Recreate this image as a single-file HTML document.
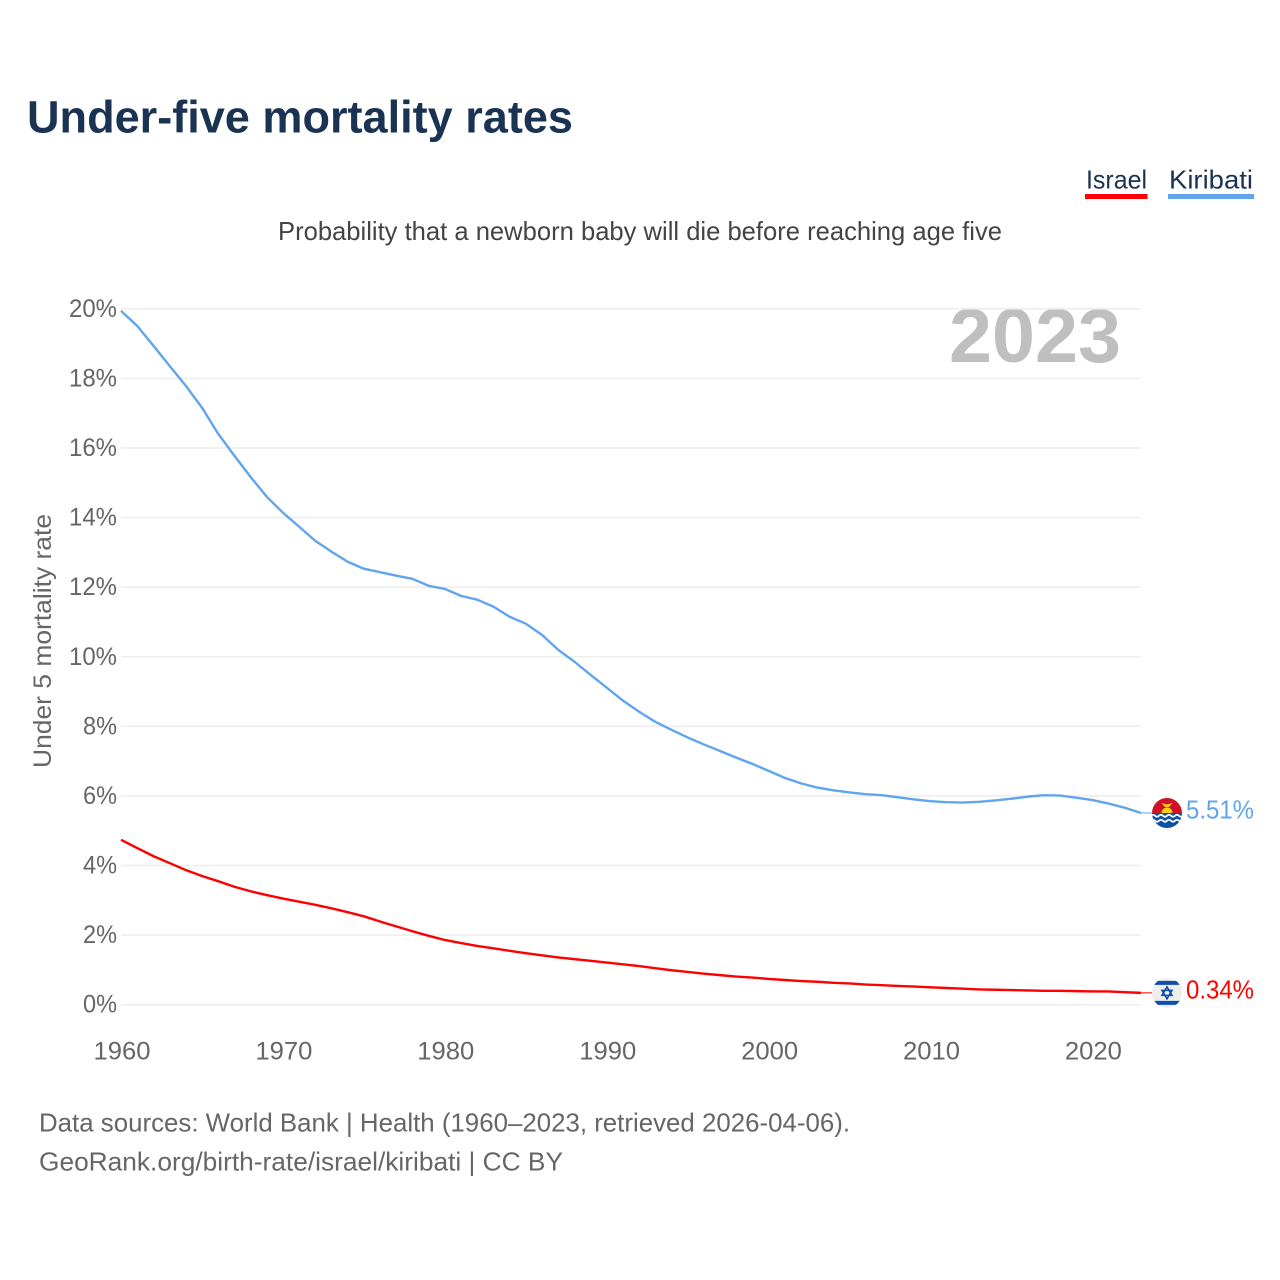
<!DOCTYPE html>
<html lang="en">
<head>
<meta charset="utf-8">
<title>Under-five mortality rates</title>
<style>
html,body{margin:0;padding:0;background:#fff;width:1280px;height:1280px;overflow:hidden}
svg{display:block;font-family:"Liberation Sans",sans-serif}
</style>
</head>
<body>
<svg id="chart" xmlns="http://www.w3.org/2000/svg" width="1280" height="1280" viewBox="0 0 1280 1280">
  <rect width="1280" height="1280" fill="#fff"/>
  <text x="27" y="132.500" font-size="45" font-weight="700" fill="#1a3353" textLength="546" lengthAdjust="spacingAndGlyphs">Under-five mortality rates</text>
  <g>
    <text x="1086" y="188.500" font-size="26" fill="#1a3353" textLength="61" lengthAdjust="spacingAndGlyphs">Israel</text>
    <rect x="1085" y="194" width="62.500" height="5" fill="#ff0000"/>
  </g>
  <g>
    <text x="1169" y="188.500" font-size="26" fill="#1a3353" textLength="84" lengthAdjust="spacingAndGlyphs">Kiribati</text>
    <rect x="1168" y="194" width="86" height="5" fill="#60a5ee"/>
  </g>
  <text x="278" y="240" font-size="26" fill="#444" textLength="724" lengthAdjust="spacingAndGlyphs">Probability that a newborn baby will die before reaching age five</text>
  <text x="949" y="362" font-size="76" font-weight="700" fill="#bfbfbf" textLength="172" lengthAdjust="spacingAndGlyphs">2023</text>
  <g id="grid"></g>
  <g id="yticks"></g>
  <g id="xticks"></g>
  <text transform="translate(51,641) rotate(-90)" text-anchor="middle" font-size="25" fill="#666" textLength="254" lengthAdjust="spacingAndGlyphs">Under 5 mortality rate</text>
  <g id="series"></g>
  <defs>
    <clipPath id="flag-clip"><circle cx="0" cy="0" r="15"/></clipPath>
  </defs>
  <g id="flag-kiribati">
    <g clip-path="url(#flag-clip)">
      <rect x="-15" y="-15" width="30" height="15" fill="#ce1126"/>
      <rect x="-15" y="0" width="30" height="15" fill="#0f4fa8"/>
      <path d="M-5.500 0a5.500 5.500 0 0 1 11 0z" fill="#fcd116"/>
      <path d="M-5.500 -10l5.500 1.500l5.500 -1.500l-3.500 4h-4z" fill="#fcd116"/>
      <path d="M-16 2.800q2 -2 4 0t4 0t4 0t4 0t4 0t4 0t4 0t4 0" fill="none" stroke="#fff" stroke-width="1.800"/>
      <path d="M-16 7.800q2 -2 4 0t4 0t4 0t4 0t4 0t4 0t4 0t4 0" fill="none" stroke="#fff" stroke-width="1.800"/>
    </g>
  </g>
  <g id="flag-israel">
    <g clip-path="url(#flag-clip)">
      <rect x="-15" y="-15" width="30" height="30" fill="#eeeeee"/>
      <rect x="-12.500" y="-12" width="25" height="4" fill="#0f4fa8"/>
      <rect x="-12.500" y="8" width="25" height="4" fill="#0f4fa8"/>
      <path d="M0 -6l5 8.500h-10zM0 6l5 -8.500h-10z" fill="none" stroke="#0f4fa8" stroke-width="1.600"/>
    </g>
  </g>
  <text x="39" y="1131.500" font-size="26" fill="#666" textLength="811" lengthAdjust="spacingAndGlyphs">Data sources: World Bank | Health (1960–2023, retrieved 2026-04-06).</text>
  <text x="39" y="1170.500" font-size="26" fill="#666" textLength="524" lengthAdjust="spacingAndGlyphs">GeoRank.org/birth-rate/israel/kiribati | CC BY</text>
</svg>
<script>
const years = [1960,1961,1962,1963,1964,1965,1966,1967,1968,1969,1970,1971,1972,1973,1974,1975,1976,1977,1978,1979,1980,1981,1982,1983,1984,1985,1986,1987,1988,1989,1990,1991,1992,1993,1994,1995,1996,1997,1998,1999,2000,2001,2002,2003,2004,2005,2006,2007,2008,2009,2010,2011,2012,2013,2014,2015,2016,2017,2018,2019,2020,2021,2022,2023];
const kiribatiValues = [19.94,19.51,18.94,18.36,17.79,17.16,16.41,15.78,15.17,14.6,14.14,13.74,13.33,13.02,12.73,12.53,12.43,12.33,12.24,12.04,11.95,11.75,11.64,11.44,11.15,10.95,10.63,10.2,9.86,9.48,9.11,8.74,8.42,8.13,7.9,7.68,7.48,7.29,7.1,6.92,6.72,6.52,6.36,6.24,6.16,6.1,6.05,6.02,5.96,5.9,5.85,5.82,5.81,5.83,5.87,5.92,5.98,6.02,6.01,5.95,5.88,5.78,5.66,5.51];
const israelValues = [4.74,4.5,4.27,4.07,3.87,3.7,3.55,3.39,3.26,3.15,3.05,2.96,2.87,2.77,2.66,2.54,2.39,2.25,2.11,1.98,1.86,1.77,1.69,1.62,1.55,1.48,1.42,1.36,1.31,1.26,1.21,1.16,1.11,1.05,0.99,0.94,0.89,0.85,0.81,0.78,0.74,0.71,0.68,0.66,0.63,0.61,0.58,0.56,0.54,0.52,0.5,0.48,0.46,0.44,0.43,0.42,0.41,0.4,0.4,0.39,0.38,0.38,0.36,0.34];
const yTickValues = [0,2,4,6,8,10,12,14,16,18,20];
const xTickValues = [1960,1970,1980,1990,2000,2010,2020];

const NS = 'http://www.w3.org/2000/svg';
const plotLeft = 121, plotRight = 1141, plotBottom = 1004.7, plotTop = 308.8;
const xMin = 1960, xMax = 2023, yMax = 20;
function xScale(v){ return plotLeft + (v - xMin) / (xMax - xMin) * (plotRight - plotLeft); }
function yScale(v){ return plotBottom - v / yMax * (plotBottom - plotTop); }
function make(tag, attrs){
  const e = document.createElementNS(NS, tag);
  for (const k in attrs) e.setAttribute(k, attrs[k]);
  return e;
}
const grid = document.getElementById('grid');
const yticks = document.getElementById('yticks');
const xticks = document.getElementById('xticks');
const series = document.getElementById('series');
const root = document.getElementById('chart');

yTickValues.forEach(function(v){
  const line = make('line', {x1: plotLeft, x2: plotRight, y1: yScale(v), y2: yScale(v), stroke: '#eeeeee', 'stroke-width': 1.6});
  
  
  grid.appendChild(line);
  const label = v + '%';
  const t = make('text', {x: 117, y: yScale(v) + 8, 'text-anchor': 'end', 'font-size': 25, fill: '#666', textLength: (label.length - 1) * 14 + 20, lengthAdjust: 'spacingAndGlyphs'});
  t.textContent = label;
  
  
  yticks.appendChild(t);
});
xTickValues.forEach(function(v){
  const t = make('text', {x: xScale(v) + 1, y: 1059.500, 'text-anchor': 'middle', 'font-size': 25, fill: '#666', textLength: 57, lengthAdjust: 'spacingAndGlyphs'});
  t.textContent = v;
  
  
  xticks.appendChild(t);
});
function linePath(vals){
  return vals.map(function(v, i){ return (i ? 'L' : 'M') + xScale(years[i]).toFixed(2) + ' ' + yScale(v).toFixed(2); }).join('');
}
function drawSeries(vals, color, flagId, key){
  const p = make('path', {d: linePath(vals), fill: 'none', stroke: color, 'stroke-width': 2.4, 'stroke-linejoin': 'round', 'stroke-linecap': 'butt'});
  
  
  p.setAttribute('data-series', key);
  series.appendChild(p);
  const last = vals[vals.length - 1];
  const ly = yScale(last);
  const c = make('line', {x1: plotRight, x2: 1152, y1: ly, y2: ly, stroke: color, 'stroke-width': 1});
  
  
  series.appendChild(c);
  document.getElementById(flagId).setAttribute('transform', 'translate(1167,' + ly + ')');
  const t = make('text', {x: 1186, y: ly + 5.500, 'font-size': 26, fill: color, textLength: 68, lengthAdjust: 'spacingAndGlyphs'});
  t.textContent = last.toFixed(2) + '%';
  
  
  root.appendChild(t);
}
drawSeries(kiribatiValues, '#60a5ee', 'flag-kiribati', 'kiribati');
drawSeries(israelValues, '#ff0000', 'flag-israel', 'israel');
</script>
</body>
</html>
